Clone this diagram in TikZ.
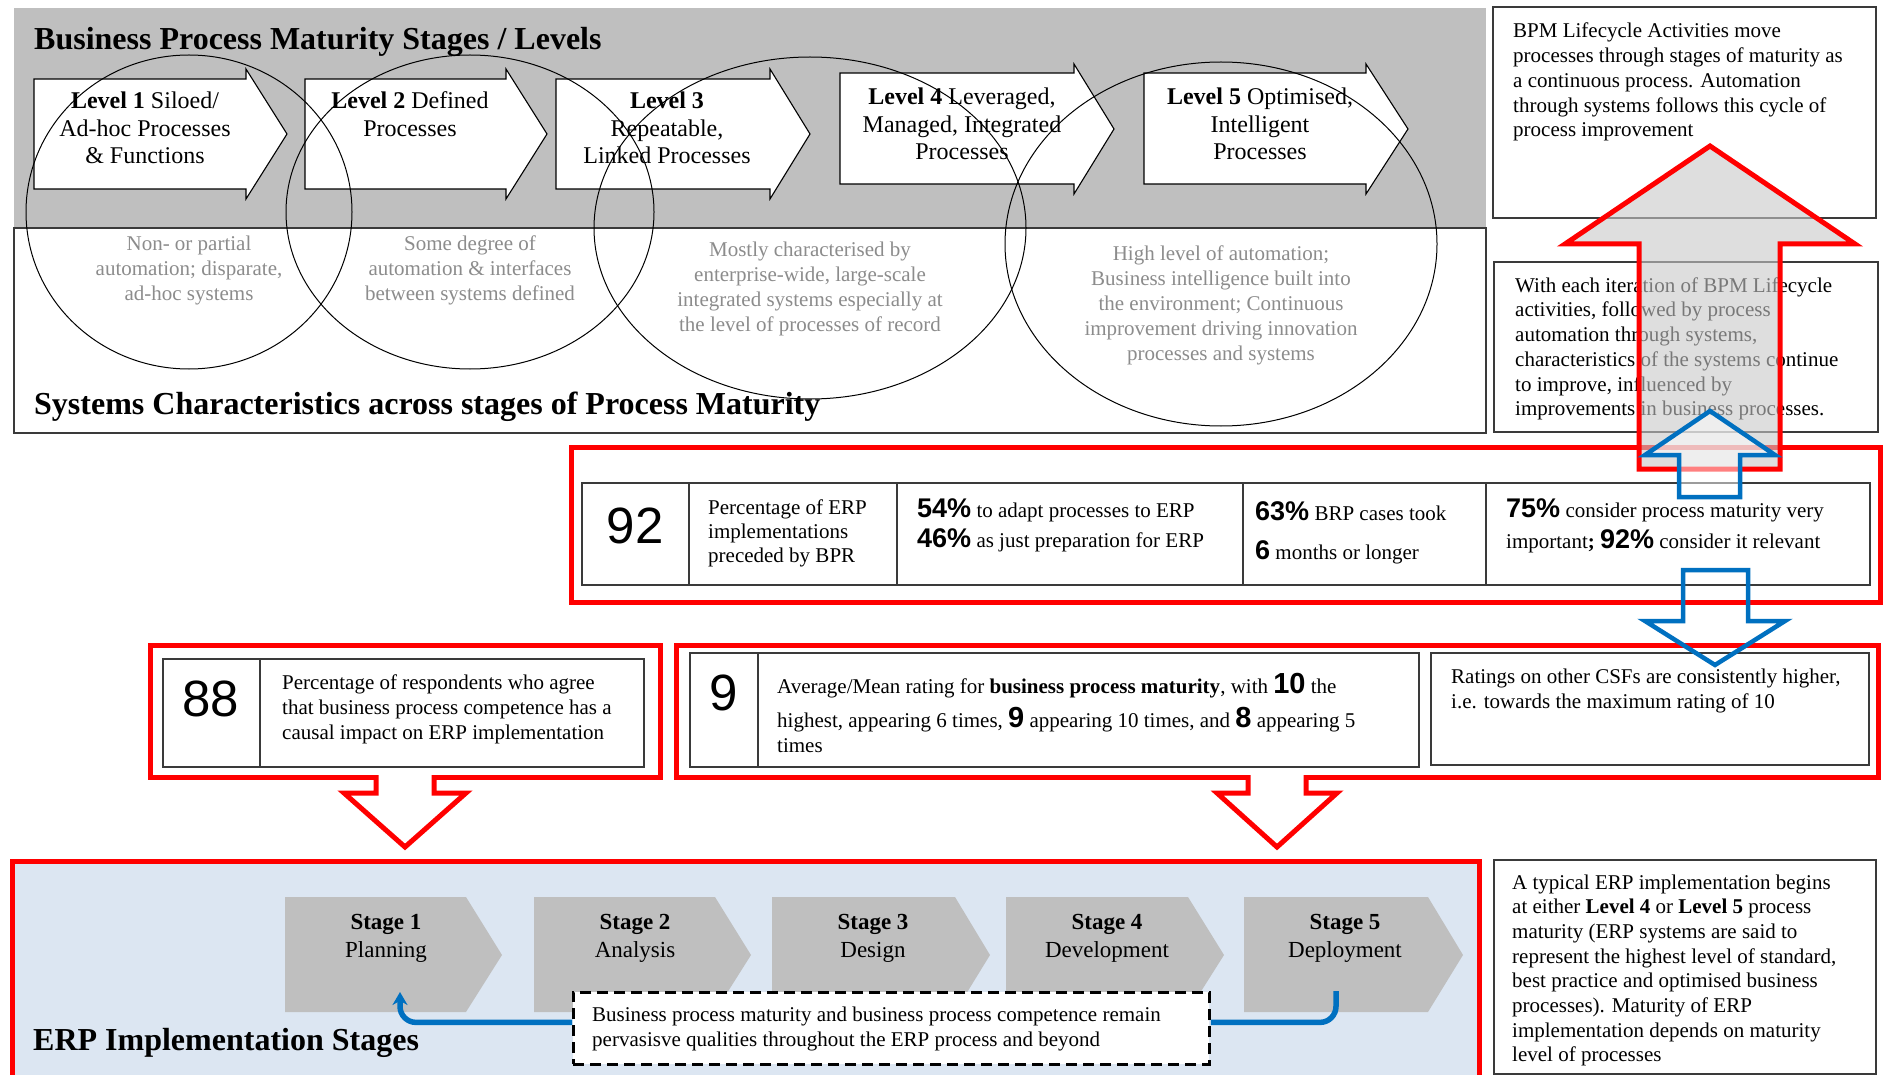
\documentclass[tikz,border=0pt]{standalone}
\usepackage{fontspec}
\setmainfont{Liberation Serif}
\newfontfamily\numfont{Liberation Sans}
\usetikzlibrary{arrows.meta}

\definecolor{panelgray}{HTML}{BFBFBF}
\definecolor{stagegray}{HTML}{BFBFBF}
\definecolor{erpblue}{HTML}{DCE6F2}
\definecolor{redline}{HTML}{FF0000}
\definecolor{blueline}{HTML}{0070C0}
\definecolor{softtext}{HTML}{8C8C8C}
\definecolor{framegray}{HTML}{3A3A3A}
\definecolor{liftfill}{HTML}{C8C8C8}

\newcommand\lefttext[1]{\begin{tabular}[t]{@{}l@{}}#1\end{tabular}}
\newcommand\centertext[1]{\begin{tabular}[t]{@{}c@{}}#1\end{tabular}}
\newcommand\bignum[1]{{\numfont\bfseries\fontsize{27}{25}\selectfont #1}}
\newcommand\bigdigit[1]{{\numfont\bfseries\fontsize{29}{25}\selectfont #1}}

\tikzset{
  panelframe/.style={draw=framegray, line width=1.8pt},
  boxframe/.style={draw=framegray, line width=1.6pt},
  cellframe/.style={draw=framegray, line width=1.6pt},
  redbox/.style={draw=redline, line width=5pt},
  redarrow/.style={draw=redline, line width=5pt},
  bluearrow/.style={draw=blueline, line width=4.5pt},
  lvlarrow/.style={draw=black, line width=1.1pt, fill=white},
  ring/.style={draw=black, line width=1pt},
  chevron/.style={fill=stagegray},
  heading/.style={font=\bfseries\fontsize{32}{36}\selectfont, anchor=base west, inner sep=0},
  lvltext/.style={font=\fontsize{24}{27.5}\selectfont, anchor=base, inner sep=0},
  softtext/.style={font=\fontsize{21}{25}\selectfont, text=softtext, anchor=base, inner sep=0},
  body/.style={font=\fontsize{21}{24.75}\selectfont, anchor=base west, inner sep=0},
  bodytight/.style={font=\fontsize{21}{24}\selectfont, anchor=base west, inner sep=0},
  stagetext/.style={font=\fontsize{23}{28}\selectfont, anchor=base, inner sep=0},
  bigfigure/.style={font=\numfont\fontsize{51}{51}\selectfont, anchor=base, inner sep=0},
  notebox/.style={draw=black, line width=2.8pt, dash pattern=on 11pt off 6pt, fill=white, inner sep=0},
  bluelink/.style={draw=blueline, line width=5.5pt, rounded corners=16pt},
}

\begin{document}
\begin{tikzpicture}[x=1pt, y=-1pt]
\useasboundingbox (0,0) rectangle (1884,1075);
\fill[white] (0,0) rectangle (1884,1075);

% ---------- maturity levels panel ----------
\fill[panelgray] (14,8) rectangle (1486,228);
\draw[panelframe] (14,228) rectangle (1486,433);

% level arrows
\draw[lvlarrow] (34,79) -- (246,79) -- (246,69) -- (287,134) -- (246,199) -- (246,189) -- (34,189) -- cycle;
\draw[lvlarrow] (305,79) -- (506,79) -- (506,69) -- (547,134) -- (506,199) -- (506,189) -- (305,189) -- cycle;
\draw[lvlarrow] (556,79) -- (770,79) -- (770,69) -- (810,134) -- (770,199) -- (770,189) -- (556,189) -- cycle;
\draw[lvlarrow] (840,73) -- (1074,73) -- (1074,64) -- (1114,129) -- (1074,194) -- (1074,184) -- (840,184) -- cycle;
\draw[lvlarrow] (1144,73) -- (1366,73) -- (1366,64) -- (1408,129) -- (1366,194) -- (1366,184) -- (1144,184) -- cycle;

\node[lvltext] (lv1) at (145,109) {\centertext{\textbf{Level 1} Siloed/\\Ad-hoc Processes\\\& Functions}};
\node[lvltext] (lv2) at (410,109) {\centertext{\textbf{Level 2} Defined\\Processes}};
\node[lvltext] (lv3) at (667,109) {\centertext{\textbf{Level 3}\\Repeatable,\\Linked Processes}};
\node[lvltext] (lv4) at (962,105) {\centertext{\textbf{Level 4} Leveraged,\\Managed, Integrated\\Processes}};
\node[lvltext] (lv5) at (1260,105) {\centertext{\textbf{Level 5} Optimised,\\Intelligent\\Processes}};

% systems characteristics
\node[softtext] (sc1) at (189,251) {\centertext{Non- or partial\\automation; disparate,\\ad-hoc systems}};
\node[softtext] (sc2) at (470,251) {\centertext{Some degree of\\automation \& interfaces\\between systems defined}};
\node[softtext] (sc3) at (810,257) {\centertext{Mostly characterised by\\enterprise-wide, large-scale\\integrated systems especially at\\the level of processes of record}};
\node[softtext] (sc4) at (1221,261) {\centertext{High level of automation;\\Business intelligence built into\\the environment; Continuous\\improvement driving innovation\\processes and systems}};

% overlapping rings
\draw[ring] (189,212) ellipse [x radius=163, y radius=157];
\draw[ring] (470,212) ellipse [x radius=184, y radius=157];
\draw[ring] (810,228) ellipse [x radius=216, y radius=171];
\draw[ring] (1221,244) ellipse [x radius=216, y radius=182];

\node[heading] (title1) at (34,50) {Business Process Maturity Stages / Levels};
\node[heading] (title2) at (34,414) {Systems Characteristics across stages of Process Maturity};

% ---------- BPM lifecycle notes ----------
\draw[boxframe] (1493,7) rectangle (1876,218);
\node[body] (bpm1) at (1513,38) {\lefttext{BPM Lifecycle Activities move\\processes through stages of maturity as\\a continuous process. Automation\\through systems follows this cycle of\\process improvement}};
\draw[boxframe] (1494,262) rectangle (1878,432);
\node[body] (bpm2) at (1515,292) {\lefttext{With each iteration of BPM Lifecycle\\activities, followed by process\\automation through systems,\\characteristics of the systems continue\\to improve, influenced by\\improvements in business processes.}};

% ---------- BPR findings row ----------
\draw[redbox] (571,447) rectangle (1880,602);
\draw[cellframe] (582,483) rectangle (1870,585);
\draw[cellframe] (689,483) -- (689,585);
\draw[cellframe] (897,483) -- (897,585);
\draw[cellframe] (1243,483) -- (1243,585);
\draw[cellframe] (1486,483) -- (1486,585);
\node[bigfigure] (n92) at (635,543) {92};
\node[bodytight] (c92a) at (708,514) {\lefttext{Percentage of ERP\\implementations\\preceded by BPR}};
\node[body] (c92b) at (917,517) {\lefttext{\bignum{54\%} to adapt processes to ERP\\[4pt]\bignum{46\%} as just preparation for ERP}};
\node[body] (c92c) at (1255,520) {\lefttext{\bignum{63\%} BRP cases took\\[13pt]\bignum{6} months or longer}};
\node[body] (c92d) at (1506,517) {\lefttext{\bignum{75\%} consider process maturity very\\[5pt]important\textbf{;} \bignum{92\%} consider it relevant}};

% lifecycle lift arrow
\path[fill=liftfill, fill opacity=0.6] (1639,469) -- (1639,244) -- (1565,244) -- (1710,146) -- (1855,244) -- (1780,244) -- (1780,469) -- cycle;
\draw[redarrow] (1639,469) -- (1639,244) -- (1565,244) -- (1710,146) -- (1855,244) -- (1780,244) -- (1780,469) -- cycle;

% ---------- competence and rating rows ----------
\draw[redbox] (150,645) rectangle (660,777);
\draw[cellframe] (163,659) rectangle (644,767);
\draw[cellframe] (260,659) -- (260,767);
\node[bigfigure] (n88) at (211,716) {88};
\node[body, font=\fontsize{21}{25}\selectfont] (c88) at (282,689) {\lefttext{Percentage of respondents who agree\\that business process competence has a\\causal impact on ERP implementation}};

\draw[redbox] (676,645) rectangle (1878,777);
\draw[cellframe] (690,653) rectangle (1419,767);
\draw[cellframe] (758,653) -- (758,767);
\draw[cellframe] (1431,653) rectangle (1869,765);
\node[bigfigure] (n9) at (724,710) {9};
\node[body] (c9) at (777,693) {\lefttext{Average/Mean rating for \textbf{business process maturity}, with \bigdigit{10} the\\[7pt]highest, appearing 6 times, \bigdigit{9} appearing 10 times, and \bigdigit{8} appearing 5\\times}};
\node[body, font=\fontsize{21}{25}\selectfont] (csf) at (1451,683) {\lefttext{Ratings on other CSFs are consistently higher,\\i.e. towards the maximum rating of 10}};

% red arrows down into the implementation stages
\fill[white] (378,773) -- (378,793) -- (344,793) -- (405,847) -- (466,793) -- (432,793) -- (432,773) -- cycle;
\draw[redarrow] (376,775) -- (376,793) -- (344,793) -- (405,847) -- (466,793) -- (434,793) -- (434,775);
\fill[white] (1250,773) -- (1250,793) -- (1217,793) -- (1277,847) -- (1337,793) -- (1304,793) -- (1304,773) -- cycle;
\draw[redarrow] (1248,775) -- (1248,793) -- (1217,793) -- (1277,847) -- (1337,793) -- (1306,793) -- (1306,775);

% blue feedback arrows
\draw[bluearrow, fill=white, fill opacity=0.5] (1679,497) -- (1679,455) -- (1645,455) -- (1710,411) -- (1775,455) -- (1740,455) -- (1740,497) -- cycle;
\draw[bluearrow] (1683,570) -- (1748,570) -- (1748,621) -- (1785,621) -- (1715,665) -- (1645,621) -- (1683,621) -- cycle;

% ---------- ERP implementation stages ----------
\draw[redbox, fill=erpblue] (12,861) rectangle (1479,1095);
\fill[chevron] (285,897) -- (466,897) -- (502,955) -- (466,1012) -- (285,1012) -- cycle;
\fill[chevron] (534,897) -- (715,897) -- (751,955) -- (715,1012) -- (534,1012) -- cycle;
\fill[chevron] (772,897) -- (955,897) -- (990,955) -- (955,1012) -- (772,1012) -- cycle;
\fill[chevron] (1006,897) -- (1188,897) -- (1224,955) -- (1188,1012) -- (1006,1012) -- cycle;
\fill[chevron] (1244,897) -- (1428,897) -- (1463,955) -- (1428,1012) -- (1244,1012) -- cycle;
\node[stagetext] (st1) at (386,929) {\centertext{\textbf{Stage 1}\\Planning}};
\node[stagetext] (st2) at (635,929) {\centertext{\textbf{Stage 2}\\Analysis}};
\node[stagetext] (st3) at (873,929) {\centertext{\textbf{Stage 3}\\Design}};
\node[stagetext] (st4) at (1107,929) {\centertext{\textbf{Stage 4}\\Development}};
\node[stagetext] (st5) at (1345,929) {\centertext{\textbf{Stage 5}\\Deployment}};
\node[heading] (title3) at (33,1050) {ERP Implementation Stages};

\node[notebox, minimum width=636pt, minimum height=72pt, anchor=north west] (note) at (572,991) {};
\node[body, font=\fontsize{21}{25}\selectfont] (notetext) at (592,1021) {\lefttext{Business process maturity and business process competence remain\\pervasisve qualities throughout the ERP process and beyond}};
\coordinate (s1foot) at (400,992);
\coordinate (s5foot) at (1336,991);
\draw[bluelink, -{Stealth[length=13pt, width=15pt]}] ([yshift=6pt]note.west) -| (s1foot);
\draw[bluelink] ([yshift=6pt]note.east) -| (s5foot);

\draw[boxframe] (1494,860) rectangle (1876,1074);
\node[body, font=\fontsize{21}{24.7}\selectfont] (erpnote) at (1512,889) {\lefttext{A typical ERP implementation begins\\at either \textbf{Level 4} or \textbf{Level 5} process\\maturity (ERP systems are said to\\represent the highest level of standard,\\best practice and optimised business\\processes). Maturity of ERP\\implementation depends on maturity\\level of processes}};
\end{tikzpicture}
\end{document}
